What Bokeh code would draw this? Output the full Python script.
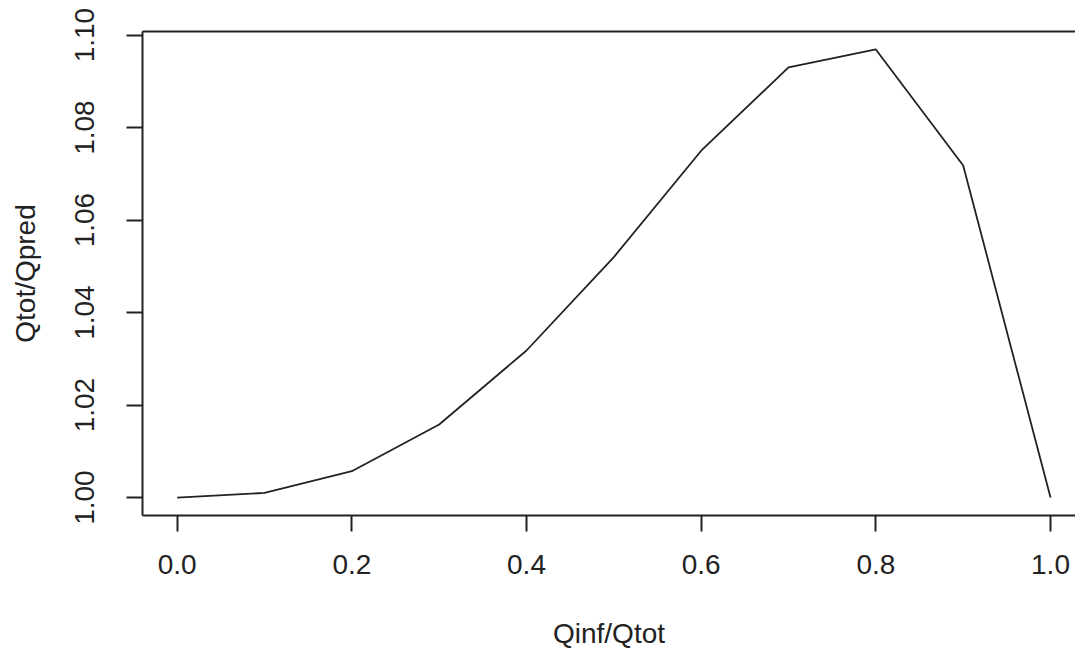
from bokeh.plotting import figure
from bokeh.models import LinearAxis, FixedTicker, NumeralTickFormatter, Range1d
from bokeh.embed import file_html
from bokeh.resources import INLINE

# Ratio of total to predicted flow against infiltration share
qinf_share = [0.0, 0.1, 0.2, 0.3, 0.4, 0.5, 0.6, 0.7, 0.8, 0.9, 1.0]
qtot_qpred = [1.0000, 1.0010, 1.0057, 1.0158, 1.0318, 1.0520, 1.0750, 1.0930, 1.0969, 1.0718, 1.0000]

x_ticks = [0.0, 0.2, 0.4, 0.6, 0.8, 1.0]
y_ticks = [1.00, 1.02, 1.04, 1.06, 1.08, 1.10]

FONT = "Liberation Sans"
INK = "#222222"

# 4% padding on each side of the data range, as base graphics does
ylo, yhi = min(qtot_qpred), max(qtot_qpred)
ypad = 0.04 * (yhi - ylo)

p = figure(width=1075, height=651, output_backend="svg", toolbar_location=None,
           x_axis_type=None, y_axis_type=None,
           x_range=Range1d(-0.0397, 1.0286),
           y_range=Range1d(ylo - ypad, yhi + ypad),
           min_border_left=142, min_border_right=0,
           min_border_top=31, min_border_bottom=136)
p.outline_line_color = None
p.background_fill_color = "white"
p.border_fill_color = "white"
p.xgrid.visible = False
p.ygrid.visible = False

def style(ax):
    ax.axis_line_color = INK
    ax.axis_line_width = 2
    ax.major_tick_line_color = INK
    ax.major_tick_line_width = 2
    ax.major_tick_out = 16
    ax.major_tick_in = 0
    ax.minor_tick_line_color = None
    ax.major_label_text_font = FONT
    ax.major_label_text_font_size = "28px"
    ax.major_label_text_color = INK
    ax.axis_label_text_font = FONT
    ax.axis_label_text_font_size = "28px"
    ax.axis_label_text_font_style = "normal"
    ax.axis_label_text_color = INK

xaxis = LinearAxis(ticker=FixedTicker(ticks=x_ticks),
                   formatter=NumeralTickFormatter(format="0.0"),
                   axis_label="Qinf/Qtot")
style(xaxis)
xaxis.major_label_standoff = 23
xaxis.axis_label_standoff = 41
p.add_layout(xaxis, "below")

yaxis = LinearAxis(ticker=FixedTicker(ticks=y_ticks),
                   formatter=NumeralTickFormatter(format="0.00"),
                   axis_label="Qtot/Qpred")
style(yaxis)
yaxis.major_label_orientation = "vertical"
yaxis.major_label_standoff = 32
yaxis.axis_label_standoff = 32
p.add_layout(yaxis, "left")

# top edge of the plotting box
top = LinearAxis(ticker=FixedTicker(ticks=[]), major_label_text_font_size="0px")
top.axis_line_color = INK
top.axis_line_width = 2
top.major_tick_line_color = None
top.minor_tick_line_color = None
p.add_layout(top, "above")

p.line(qinf_share, qtot_qpred, line_color=INK, line_width=1.8)

open("out.html", "w").write(file_html(p, INLINE))
